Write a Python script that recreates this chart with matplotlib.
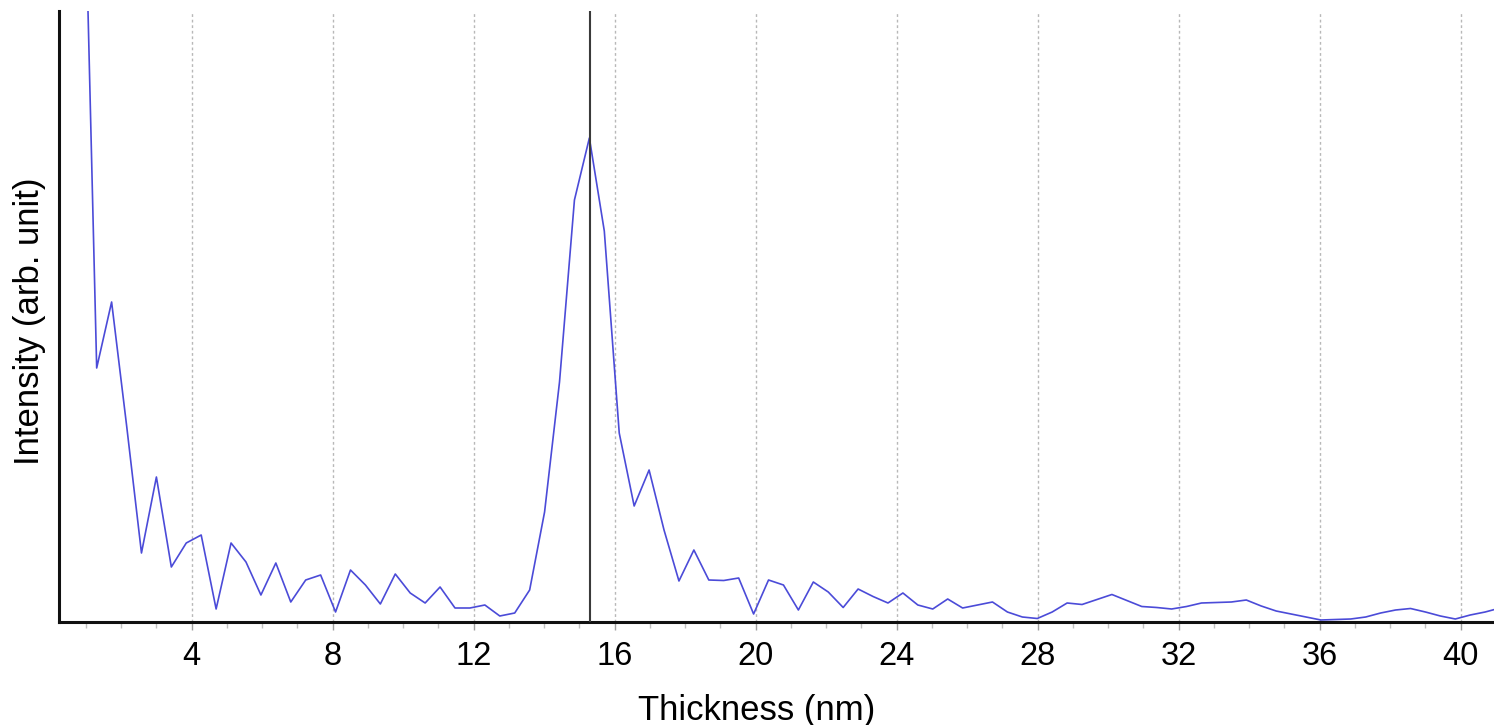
import numpy as np
import matplotlib
matplotlib.use("Agg")
import matplotlib.pyplot as plt
from matplotlib.ticker import MultipleLocator

# ---- data ----
thickness_start = 0.881   # nm, first sample (above the visible range)
thickness_step = 0.4236   # nm, sampling interval
intensity = [
    868, 254, 320, 197, 69, 145, 55, 79, 87, 13,
    79, 60, 27, 59, 20, 42, 47, 10, 52, 37,
    18, 48, 29, 19, 35, 14, 14, 17, 6, 9,
    32, 110, 240, 422, 484, 391, 189, 116, 152, 92,
    41, 72, 42, 41.5, 44, 8, 42, 37, 12, 40,
    30, 14.5, 33, 25.5, 19, 29, 17, 13, 23, 14,
    17, 20, 10, 5, 3.5, 10, 19, 17.5, 22.5, 27.5,
    21.5, 15.5, 14.5, 13, 15.5, 19, 19.5, 20, 22, 16,
    11, 8, 5, 2, 2.5, 3, 5, 9, 12, 13.5,
    10, 6, 3, 7, 10, 14,
]
thickness = thickness_start + thickness_step * np.arange(len(intensity))
marker_x = 15.30
xticks = [4, 8, 12, 16, 20, 24, 28, 32, 36, 40]
xlabel = "Thickness (nm)"
ylabel = "Intensity (arb. unit)"

plt.rcParams['font.family'] = ['Liberation Sans', 'DejaVu Sans']

fig = plt.figure(figsize=(14.94, 7.25), dpi=100)
ax = fig.add_axes([59.3 / 1494, 1 - 622 / 725, 1 - 59.3 / 1494, (622 - 11) / 725])

ax.plot(thickness, intensity, color='#4b4bd8', lw=1.2, zorder=3)
ax.axvline(marker_x, color='#3a3a3a', lw=1.5, zorder=4)

ax.set_xlim(0.244, 40.95)
ax.set_ylim(0, 611)

ax.set_xticks(xticks)
ax.set_xticklabels([str(t) for t in xticks])
ax.xaxis.set_minor_locator(MultipleLocator(1))
ax.set_yticks([])

ax.grid(axis='x', which='major', linestyle=(0, (2, 2)), color='#b8b8b8', lw=1.0, zorder=1)

for s in ['top', 'right']:
    ax.spines[s].set_visible(False)
for s in ['left', 'bottom']:
    ax.spines[s].set_linewidth(2.2)
    ax.spines[s].set_color('#111111')

ax.tick_params(axis='x', which='major', length=6, width=1, color='#a0a0a0',
               labelsize=23.5, pad=8, labelcolor='black')
ax.tick_params(axis='x', which='minor', length=4, width=1, color='#c0c0c0')

ax.set_xlabel(xlabel, fontsize=25)
ax.xaxis.set_label_coords(0.486, -0.118)
ax.set_ylabel(ylabel, fontsize=25)
ax.yaxis.set_label_coords(-0.0095, 0.493)

fig.savefig('out.png', dpi=100)
